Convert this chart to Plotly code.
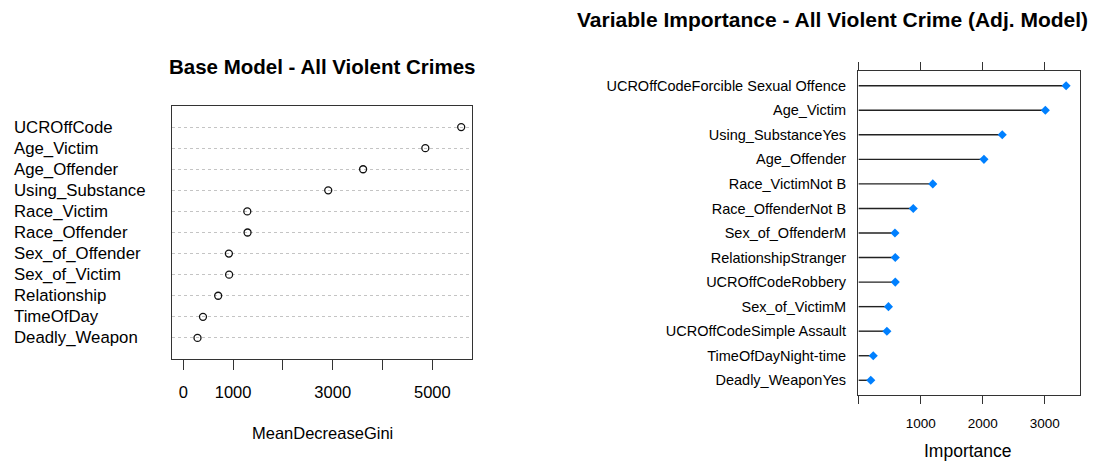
import plotly.graph_objects as go

# ---- data ----
base_vars = ["UCROffCode", "Age_Victim", "Age_Offender", "Using_Substance", "Race_Victim",
             "Race_Offender", "Sex_of_Offender", "Sex_of_Victim", "Relationship",
             "TimeOfDay", "Deadly_Weapon"]
base_gini = [5580, 4860, 3610, 2910, 1285, 1290, 915, 920, 700, 395, 285]
base_ticks = [0, 1000, 2000, 3000, 4000, 5000]
base_ticktext = ["0", "1000", "", "3000", "", "5000"]

adj_vars = ["UCROffCodeForcible Sexual Offence", "Age_Victim", "Using_SubstanceYes",
            "Age_Offender", "Race_VictimNot B", "Race_OffenderNot B", "Sex_of_OffenderM",
            "RelationshipStranger", "UCROffCodeRobbery", "Sex_of_VictimM",
            "UCROffCodeSimple Assault", "TimeOfDayNight-time", "Deadly_WeaponYes"]
adj_imp = [3345, 3010, 2315, 2020, 1195, 880, 585, 590, 590, 480, 455, 235, 195]
adj_ticks = [0, 1000, 2000, 3000]
adj_ticktext = ["", "1000", "2000", "3000"]

W, H = 1115, 461
FONT = "Liberation Sans, Arial, sans-serif"
TXT = "#000000"

def px(x):
    return x / W

def py(y):
    return 1 - y / H

fig = go.Figure()

# left: dot chart
fig.add_trace(go.Scatter(
    x=base_gini, y=base_vars, mode="markers", xaxis="x", yaxis="y",
    marker=dict(symbol="circle-open", size=7, color="#111111", line=dict(width=1.3)),
    showlegend=False, hoverinfo="x+y"))

# right: lollipop
seg_x, seg_y = [], []
for v, n in zip(adj_imp, adj_vars):
    seg_x += [0, v, None]
    seg_y += [n, n, None]
fig.add_trace(go.Scatter(
    x=seg_x, y=seg_y, mode="lines", xaxis="x2", yaxis="y2",
    line=dict(color="#222222", width=1.4), showlegend=False, hoverinfo="skip"))
fig.add_trace(go.Scatter(
    x=adj_imp, y=adj_vars, mode="markers", xaxis="x2", yaxis="y2",
    marker=dict(symbol="diamond", size=7, color="#0080ff"),
    showlegend=False, hoverinfo="x+y"))

annotations = []
for n in base_vars:
    annotations.append(dict(x=px(12), xref="paper", y=n, yref="y", text=n, showarrow=False,
                            xanchor="left", yanchor="middle",
                            font=dict(family=FONT, size=16.8, color=TXT)))
annotations += [
    dict(x=px(322), y=py(67), xref="paper", yref="paper", text="<b>Base Model - All Violent Crimes</b>",
         showarrow=False, xanchor="center", yanchor="middle",
         font=dict(family=FONT, size=20.5, color="#000000")),
    dict(x=px(832), y=py(19), xref="paper", yref="paper",
         text="<b>Variable Importance - All Violent Crime (Adj. Model)</b>",
         showarrow=False, xanchor="center", yanchor="middle",
         font=dict(family=FONT, size=21, color="#000000")),
    dict(x=px(322), y=py(433), xref="paper", yref="paper", text="MeanDecreaseGini",
         showarrow=False, xanchor="center", yanchor="middle",
         font=dict(family=FONT, size=16.5, color=TXT)),
    dict(x=px(968), y=py(451), xref="paper", yref="paper", text="Importance",
         showarrow=False, xanchor="center", yanchor="middle",
         font=dict(family=FONT, size=17.5, color=TXT)),
]

fig.update_layout(
    width=W, height=H, margin=dict(l=0, r=0, t=0, b=0),
    paper_bgcolor="white", plot_bgcolor="white",
    font=dict(family=FONT, color=TXT),
    annotations=annotations,
    xaxis=dict(domain=[px(172), px(472)], range=[-227, 5797], anchor="y",
               tickvals=base_ticks, ticktext=base_ticktext, ticks="outside", ticklen=10,
               tickcolor="#333333", showline=True, linecolor="#333333", mirror=True,
               showgrid=False, zeroline=False, tickfont=dict(size=16.5, color=TXT),
               ticklabelstandoff=8),
    yaxis=dict(domain=[py(359), py(106)], range=[-1, 11], anchor="x",
               categoryorder="array", categoryarray=base_vars[::-1],
               showticklabels=False, ticks="", showline=True, linecolor="#333333", mirror=True,
               showgrid=True, gridcolor="#c4c4c4", griddash="dot", gridwidth=1, zeroline=False),
    xaxis2=dict(domain=[px(858), px(1080)], range=[-11, 3569], anchor="y2",
                tickvals=adj_ticks, ticktext=adj_ticktext, ticks="outside", ticklen=8,
                tickcolor="#333333", showline=True, linecolor="#333333", mirror="allticks",
                showgrid=False, zeroline=False, tickfont=dict(size=13.5, color=TXT),
                ticklabelstandoff=8),
    yaxis2=dict(domain=[py(395), py(71)], range=[-0.6, 12.6], anchor="x2",
                categoryorder="array", categoryarray=adj_vars[::-1],
                ticks="", showline=True, linecolor="#333333", mirror=True,
                showgrid=False, zeroline=False, tickfont=dict(size=14.5, color=TXT),
                ticklabelstandoff=8),
)

fig.write_html("out.html")
